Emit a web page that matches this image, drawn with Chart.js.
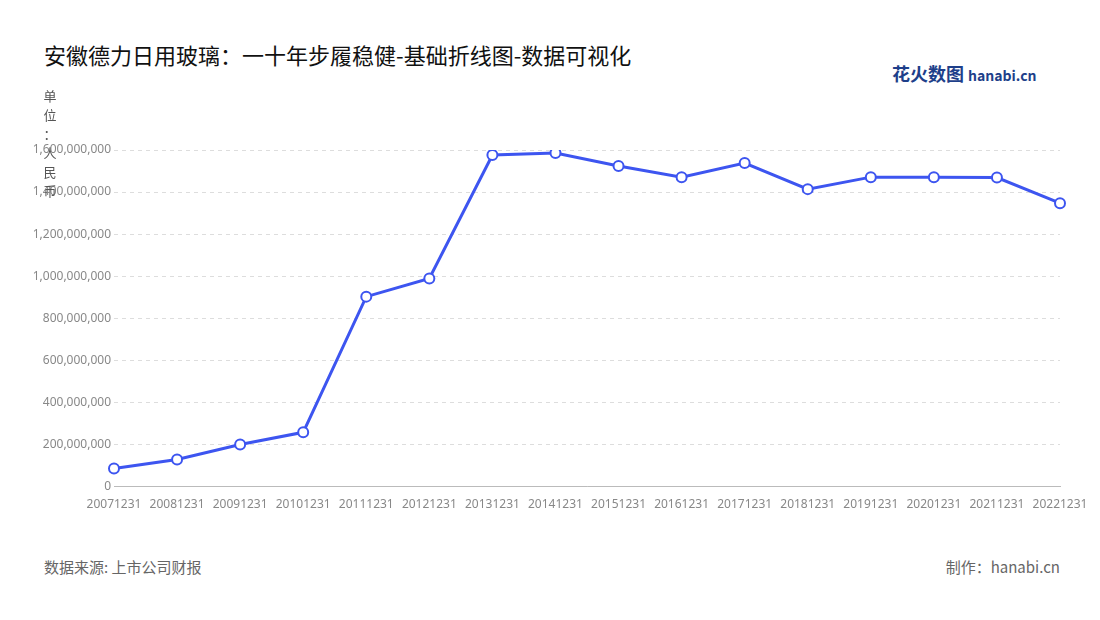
<!DOCTYPE html>
<html><head><meta charset="utf-8">
<script src="https://cdn.jsdelivr.net/npm/chart.js@4/dist/chart.umd.min.js"></script>
<style>
body{margin:0;width:1100px;height:620px;background:#fff;font-family:"Noto Sans CJK SC","Noto Sans",sans-serif;position:relative;overflow:hidden}
#t{position:absolute;left:44px;top:38px;font-size:22px;color:#111}
#u{position:absolute;left:43px;top:86px;width:14px;font-size:13px;line-height:19px;color:#555;text-align:center;z-index:2}
#c{position:absolute;left:0;top:130px;width:1100px;height:390px}
.f{position:absolute;top:556px;font-size:15px;color:#666}
#logo{position:absolute;left:892px;top:60px;font-size:18px;font-weight:bold;color:#1e3f8a}
#logo span{font-size:14px;color:#1e3f8a}
</style></head><body>
<div id="t">安徽德力日用玻璃：一十年步履稳健-基础折线图-数据可视化</div>
<div id="logo">花火数图 <span>hanabi.cn</span></div>
<div id="u">单<br>位<br>：<br>人<br>民<br>币</div>
<div id="c"><canvas id="cv"></canvas></div>
<div class="f" style="left:44px">数据来源: 上市公司财报</div>
<div class="f" style="right:40px">制作：hanabi.cn</div>
<script>
const categories=["20071231","20081231","20091231","20101231","20111231","20121231","20131231","20141231","20151231","20161231","20171231","20181231","20191231","20201231","20211231","20221231"];
const values=[86000000,129000000,200000000,258000000,903000000,989000000,1576000000,1586000000,1524000000,1471000000,1538000000,1414000000,1471000000,1471000000,1469000000,1347000000];
new Chart(document.getElementById('cv'),{type:'line',
data:{labels:categories,datasets:[{data:values,borderColor:'#3d55f0',borderWidth:3,backgroundColor:'#fff',pointBorderColor:'#3d55f0',pointBorderWidth:2,pointRadius:5,pointBackgroundColor:'#fff',tension:0}]},
options:{responsive:true,maintainAspectRatio:false,animation:false,
layout:{padding:{left:10,right:40,top:20,bottom:5}},
plugins:{legend:{display:false},tooltip:{enabled:false}},
scales:{
x:{offset:false,grid:{display:false,drawTicks:true},border:{color:'#bbb'},ticks:{color:'#888',font:{size:12,family:'Noto Sans'},maxRotation:0,autoSkip:false}},
y:{min:0,max:1600000000,ticks:{stepSize:200000000,color:'#888',font:{size:12,family:'Noto Sans'},callback:v=>v.toLocaleString('en-US')},grid:{color:'#ddd',drawTicks:false},border:{display:false,dash:[4,4]},afterFit:s=>{s.width=104}}
}}});
</script></body></html>
